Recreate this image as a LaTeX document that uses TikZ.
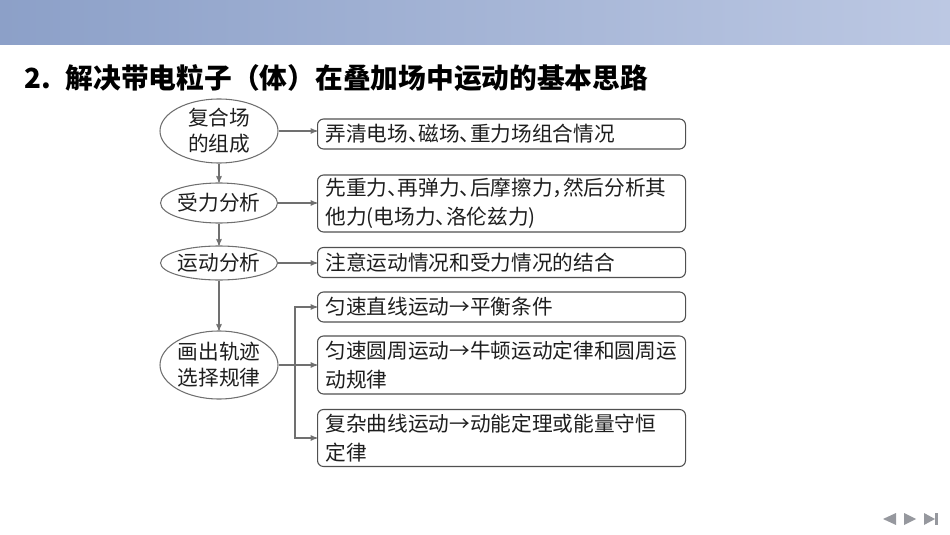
\documentclass[tikz,border=0pt]{standalone}
\usepackage{fontspec}
\usepackage{tikz}
\usetikzlibrary{shapes,arrows}
\newfontfamily\cjk[RawFeature=+halt]{Noto Sans CJK SC}
\newfontfamily\cjktitle{Noto Sans CJK SC}
\definecolor{linegray}{RGB}{112,112,112}
\definecolor{boxgray}{RGB}{80,80,80}
\definecolor{inkblack}{RGB}{30,30,30}
\definecolor{bannerL}{RGB}{140,160,200}
\definecolor{bannerR}{RGB}{188,200,227}
\definecolor{navgray}{RGB}{150,152,158}

\begin{document}
\begin{tikzpicture}[x=0.75pt,y=-0.75pt,->,>=stealth',line width=0.8pt,draw=linegray,
  font=\cjk\fontsize{15.5}{21.75}\selectfont]
\tikzstyle{phase}=[draw=linegray,ellipse,inner sep=0pt,align=center,text=inkblack,
  font=\cjk\fontsize{15.5}{19.5}\selectfont]
\tikzstyle{hint}=[draw=boxgray,rounded corners=4.5pt,anchor=west,text width=264pt,
  inner xsep=6pt,inner ysep=2pt,align=left,text=inkblack]
\useasboundingbox (0,0) rectangle (950,535);
% banner and title
\shade[-,left color=bannerL,right color=bannerR,draw=none] (0,0) rectangle (950,45);
\node[anchor=west,inner sep=0pt,text=black,font=\cjktitle\bfseries\fontsize{20.8}{24}\selectfont]
  (title) at (24,78) {2.\hspace{11pt}解决带电粒子（体）在叠加场中运动的基本思路};
% left column
\node[phase,minimum width=88.5pt,minimum height=48pt] (e1) at (219,131) {复合场\\的组成};
\node[phase,minimum width=87pt,minimum height=30pt] (e2) at (219,203) {受力分析};
\node[phase,minimum width=87pt,minimum height=25.5pt] (e3) at (219,263) {运动分析};
\node[phase,minimum width=88.5pt,minimum height=51pt] (e4) at (219,365) {画出轨迹\\选择规律};
% right column
\node[hint,minimum height=22.5pt] (b1) at (317,134) {弄清电场、磁场、重力场组合情况};
\node[hint,minimum height=42.75pt] (b2) at (317,203.5) {先重力、再弹力、后摩擦力，然后分析其\\他力(电场力、洛伦兹力)};
\node[hint,minimum height=22.5pt] (b3) at (317,262.5) {注意运动情况和受力情况的结合};
\node[hint,minimum height=22.5pt] (b4) at (317,307) {匀速直线运动→平衡条件};
\node[hint,minimum height=43.5pt] (b5) at (317,365) {匀速圆周运动→牛顿运动定律和圆周运\\动规律};
\node[hint,minimum height=42.75pt] (b6) at (317,438) {复杂曲线运动→动能定理或能量守恒\\定律};
\coordinate (fork) at (295,365);
\path (e1) edge (e2)
      (e2) edge (e3)
      (e3) edge (e4);
\draw (e1.east) -- (e1.east -| b1.west);
\draw (e2.east) -- (e2.east -| b2.west);
\draw (e3.east) -- (e3.east -| b3.west);
\draw[-] (e4.east) -- (fork);
\draw (fork) |- (b4.west);
\draw (fork) -- (b5.west);
\draw (fork) |- (b6.west);
% page buttons
\fill[-,navgray] (883,519) -- (896,513) -- (896,525) -- cycle;
\fill[-,navgray] (904,513) -- (916,519) -- (904,525) -- cycle;
\fill[-,navgray] (924,513) -- (935,519) -- (924,525) -- cycle;
\fill[-,navgray] (935,513) rectangle (938,525);
\end{tikzpicture}
\end{document}
